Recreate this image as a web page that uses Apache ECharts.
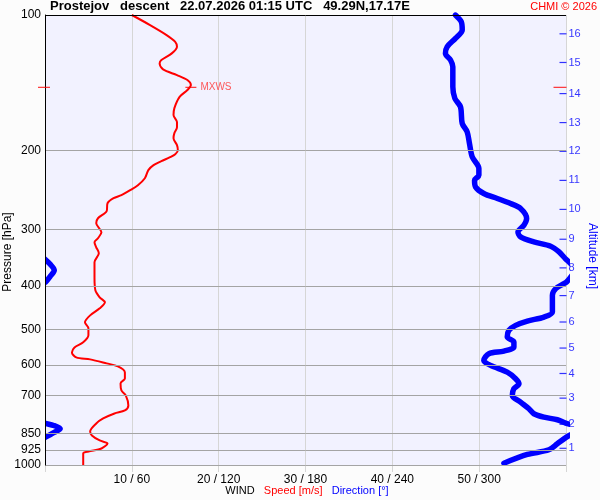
<!DOCTYPE html>
<html><head><meta charset="utf-8">
<script src="https://cdn.jsdelivr.net/npm/echarts@6/dist/echarts.min.js"></script>
<style>html,body{margin:0;padding:0;background:#fcfcfc}#c{width:600px;height:500px}</style>
</head><body><div id="c"></div>
<script>
const pressureTicks = [100, 200, 300, 400, 500, 600, 700, 850, 925, 1000];
const altitudeKm = [1, 2, 3, 4, 5, 6, 7, 8, 9, 10, 11, 12, 13, 14, 15, 16];
const altitudePressure = [918.1, 811.9, 710.3, 626.1, 549.7, 481.1, 420.3, 364.7, 315.0, 270.4, 233.1, 200.9, 173.4, 149.5, 127.5, 110.1];

const speedPressure = [100,105.3,110.8,114.7,117.6,121.7,125.9,128.1,132.1,136.0,139.5,143.1,146.8,152.0,161.0,166.9,173.0,177.5,183.0,187.8,194.6,199.7,203.8,207.0,211.3,215.6,221.2,230.5,238.9,245.1,251.4,255.3,262.0,272.9,282.9,290.2,303.9,313.4,319.9,328.2,338.4,354.4,382.7,409.1,424.0,435.0,448.6,465.0,481.9,497.0,515.1,533.9,547.8,562.0,576.6,582.5,594.6,603.8,622.6,642.0,658.7,682.8,700.5,737.3,756.4,768.1,788.1,808.5,842.3,859.8,882.1,895.7,919.0,933.2,942.8,1000];
const speedValues = [10.0,12.1,14.0,15.0,15.2,14.6,13.4,13.2,13.6,15.2,16.4,16.8,16.4,15.5,14.9,14.8,15.2,15.2,14.9,14.8,15.2,15.3,15.0,14.4,13.4,12.5,11.9,11.5,10.7,9.8,8.8,7.9,7.2,7.1,6.1,5.9,6.5,6.1,5.7,5.9,6.2,5.7,5.7,5.8,6.3,6.9,6.3,5.2,4.6,5.0,5.0,4.4,3.4,3.1,3.6,5.2,7.1,8.4,9.2,9.2,8.7,8.8,9.3,9.6,9.2,8.0,6.7,5.9,5.2,5.4,6.3,7.2,6.5,5.0,4.4,4.4];

const directionPressure = [100,103.5,108.0,112.7,117.6,121.7,125.9,130.3,144.4,153.2,160.0,174.2,181.8,193.0,206.7,219.3,227.0,232.9,241.0,249.3,255.7,262.4,269.2,283.3,293.2,303.5,311.3,319.4,326.5,336.2,347.8,358.1,369.2,380.8,392.0,395.3,405.5,419.7,457.1,469.1,478.8,489.4,502.1,519.7,533.1,546.9,558.3,565.7,585.5,600.7,621.7,643.0,659.7,676.8,700.5,724.9,749.9,769.3,782.8,793.3,807.3,816.9,830.8,846.7,867.3,897.1,925.1,947.6,990.8];
const directionValues = [283.6,287.6,288.3,283.6,277.9,276.7,280.2,281.8,281.8,283.2,287.1,288.3,291.7,293.3,295.2,299.8,299.8,296.8,297.5,303.2,312.5,321.7,328.6,332.8,330.9,326.8,328.6,337.8,349.4,355.2,359.5,3.6,6.4,3.6,0.4,358.6,352.9,350.6,350.6,344.8,333.3,325.2,320.5,319.4,324.0,324.0,317.1,306.7,303.2,307.9,319.4,325.2,327.5,324.0,322.9,328.6,334.4,337.8,344.8,354.0,359.8,6.0,10.5,6.4,0.3,354.0,348.2,333.3,317.1];

const maxWindSpeed = [16.8];
const maxWindPressure = [144.8];

const FONT = '"Liberation Sans", Arial, sans-serif';

// unwrap direction so the curve stays continuous across 360
const unwrapped = [];
let off = 0;
directionValues.forEach((d, i) => {
  if (i > 0) {
    const diff = d - directionValues[i - 1];
    if (diff < -180) off += 360;
    if (diff > 180) off -= 360;
  }
  unwrapped.push(d + off);
});
const dirMain = unwrapped.map((d, i) => [d, directionPressure[i]]);
const dirWrap = unwrapped.map((d, i) => [d - 360, directionPressure[i]]);
const speedData = speedValues.map((s, i) => [s, speedPressure[i]]);

const chart = echarts.init(document.getElementById('c'), null, {renderer: 'canvas'});
const option = {
  backgroundColor: '#fcfcfc',
  animation: false,
  textStyle: {fontFamily: FONT},
  grid: {left: 45, right: 34, top: 15, bottom: 35, show: true, backgroundColor: '#f2f2ff', borderWidth: 0, containLabel: false},
  xAxis: [
    {type: 'value', min: 0, max: 60, interval: 10,
     axisLine: {show: false},
     axisTick: {show: true, length: 7, lineStyle: {color: '#d6d6d6'}},
     splitLine: {show: true, lineStyle: {color: '#d6d6d6', width: 1}},
     axisLabel: {color: '#000', fontSize: 12, fontFamily: FONT, margin: 9,
       formatter: v => (v === 0 || v === 60) ? '' : v + ' / ' + (v * 6)}},
    {type: 'value', min: 0, max: 360, show: false}
  ],
  yAxis: [{type: 'log', logBase: 10, min: 100, max: 1000, inverse: true, z: 5,
    axisLine: {show: true, lineStyle: {color: '#000', width: 1}},
    axisTick: {show: false}, axisLabel: {show: false}, splitLine: {show: false}}],
  graphic: [
    {type: 'rect', z: 10, silent: true, shape: {x: 41, y: 15, width: 4, height: 451}, style: {fill: '#fcfcfc'}},
    {type: 'text', left: 50, top: 0, style: {text: 'Prostejov   descent   22.07.2026 01:15 UTC   49.29N,17.17E', font: 'bold 13px ' + FONT, fill: '#000'}},
    {type: 'text', right: 3, top: 1, style: {text: 'CHMI © 2026', font: '11px ' + FONT, fill: '#ff0000'}},
    {type: 'text', x: 2, y: 252, rotation: Math.PI / 2, style: {text: 'Pressure [hPa]', font: '12px ' + FONT, fill: '#000', align: 'center', verticalAlign: 'top'}},
    {type: 'text', x: 598, y: 256, rotation: -Math.PI / 2, style: {text: 'Altitude [km]', font: '12px ' + FONT, fill: '#0000ff', align: 'center', verticalAlign: 'top'}},
    {type: 'text', x: 307, y: 485, style: {text: '{k|WIND}   {r|Speed [m/s]}   {b|Direction [°]}', align: 'center', font: '11px ' + FONT,
      rich: {k: {fill: '#000', font: '11px ' + FONT}, r: {fill: '#ff0000', font: '11px ' + FONT}, b: {fill: '#0000ff', font: '11px ' + FONT}}}}
  ],
  series: [
    {name: 'grid', type: 'line', data: [], xAxisIndex: 0, silent: true,
     markLine: {silent: true, symbol: 'none', animation: false,
       lineStyle: {color: '#a4a4a4', width: 1, type: 'solid'},
       label: {show: true, position: 'start', distance: 4, color: '#000', fontSize: 12, fontFamily: FONT, formatter: p => String(p.value)},
       emphasis: {disabled: true},
       data: pressureTicks.map(p => p === 100 ? {yAxis: p, lineStyle: {color: '#000'}} : {yAxis: p})}},
    {name: 'Direction', type: 'line', xAxisIndex: 1, data: dirMain, showSymbol: false, symbol: 'none', clip: true, smooth: 0.3,
     lineStyle: {color: '#0000ff', width: 5.5, cap: 'round', join: 'round'}},
    {name: 'DirectionWrap', type: 'line', xAxisIndex: 1, data: dirWrap, showSymbol: false, symbol: 'none', clip: true, smooth: 0.3,
     lineStyle: {color: '#0000ff', width: 5.5, cap: 'round', join: 'round'}},
    {name: 'Speed', type: 'line', xAxisIndex: 0, data: speedData, showSymbol: false, symbol: 'none', clip: true, smooth: 0.3,
     lineStyle: {color: '#ff0000', width: 2, join: 'round'}},
    {name: 'MXWS', type: 'scatter', xAxisIndex: 0, clip: false, silent: true,
     symbol: 'rect', symbolSize: [11, 1.2], itemStyle: {color: '#ff0000'},
     data: maxWindSpeed.map((s, i) => [s, maxWindPressure[i]]),
     label: {show: true, position: 'right', distance: 4, formatter: 'MXWS', color: '#ff3030', fontSize: 10, fontFamily: FONT}},
    {name: 'MXWSLeft', type: 'scatter', xAxisIndex: 0, clip: false, silent: true, z: 12,
     symbol: 'rect', symbolSize: [12, 1.2], symbolOffset: [-1, 0], itemStyle: {color: '#ff0000'},
     data: maxWindPressure.map(p => [0, p])},
    {name: 'MXWSRight', type: 'scatter', xAxisIndex: 0, clip: false, silent: true,
     symbol: 'rect', symbolSize: [13, 1.2], symbolOffset: [-6, 0], itemStyle: {color: '#ff0000'},
     data: maxWindPressure.map(p => [60, p])},
    {name: 'Altitude', type: 'scatter', xAxisIndex: 0, clip: false, silent: true,
     symbol: 'rect', symbolSize: [7, 1.2], symbolOffset: [-3, 0], itemStyle: {color: '#0000ff'},
     data: altitudePressure.map((p, i) => ({value: [60, p], km: altitudeKm[i]})),
     label: {show: true, position: 'right', distance: 2, color: '#0000ff', fontSize: 11, fontFamily: FONT,
       formatter: p => String(p.data.km)}}
  ]
};
chart.setOption(option);
</script></body></html>
